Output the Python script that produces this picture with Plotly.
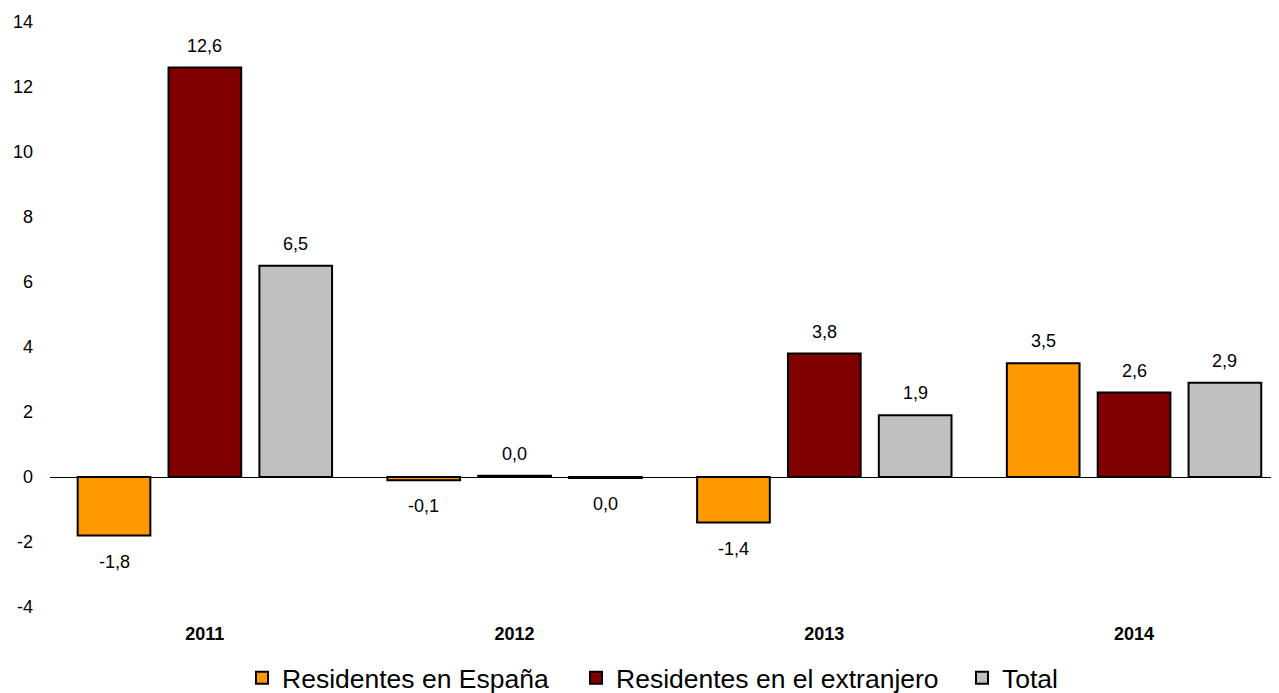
import plotly.graph_objects as go

years = ["2011", "2012", "2013", "2014"]
series_names = ["Residentes en España", "Residentes en el extranjero", "Total"]
espana = [-1.8, -0.1, -1.4, 3.5]
extranjero = [12.6, 0.04, 3.8, 2.6]
total = [6.5, -0.03, 1.9, 2.9]
y_ticks = [-4, -2, 0, 2, 4, 6, 8, 10, 12, 14]
y_tick_labels = ["-4", "-2", "0", "2", "4", "6", "8", "10", "12", "14"]

colors = ["#FF9900", "#800000", "#C0C0C0"]
FONT = "Liberation Sans, Arial, sans-serif"
BARGAP = 0.12
BARGROUPGAP = 0.2

# the page body adds an 8px offset; size the figure to fill the rest of the window
PAGE_OFF = 8
W, H = 1279 - PAGE_OFF, 693 - PAGE_OFF
legend_square_left = [253, 587, 973]  # window px of legend swatches
legend_center_y = 678


def fmt(v):
    s = f"{abs(v):.1f}".replace(".", ",")
    if round(v, 1) < 0:
        s = "-" + s
    return s


fig = go.Figure()
all_series = [espana, extranjero, total]
legend_ids = ["legend", "legend2", "legend3"]
for name, vals, col, lid in zip(series_names, all_series, colors, legend_ids):
    fig.add_trace(go.Bar(
        x=years, y=vals, name=name, legend=lid,
        marker=dict(color=col, line=dict(color="black", width=2)),
    ))

# value labels
slot = (1 - BARGAP) / len(all_series)
annotations = []
for si, vals in enumerate(all_series):
    off = (si - (len(all_series) - 1) / 2) * slot
    for ci, v in enumerate(vals):
        annotations.append(dict(
            x=ci + off, y=v, xref="x", yref="y",
            text=fmt(v), showarrow=False,
            yshift=22 if v >= 0 else -26,
            font=dict(family=FONT, size=18, color="black"),
        ))

legend_common = dict(
    orientation="h", xanchor="left", xref="container",
    y=(693 - legend_center_y) / H, yanchor="middle", yref="container",
    font=dict(family=FONT, size=26.5, color="black"),
    bgcolor="rgba(0,0,0,0)",
)
legends = {}
for lid, sq in zip(legend_ids, legend_square_left):
    legends[lid] = dict(legend_common, x=(sq - 11 - PAGE_OFF) / W)

fig.update_layout(
    width=W, height=H,
    barmode="group", bargap=BARGAP, bargroupgap=BARGROUPGAP,
    plot_bgcolor="white", paper_bgcolor="white",
    margin=dict(l=50 - PAGE_OFF, r=0, t=22 - PAGE_OFF, b=693 - 607),
    font=dict(family=FONT, size=18, color="black"),
    annotations=annotations,
    showlegend=True,
    **legends,
    xaxis=dict(
        type="category", range=[-0.5, 3.468], showgrid=False, showline=False,
        ticks="", tickfont=dict(family=FONT, size=18, color="black", weight="bold"),
        ticklabelstandoff=14,
    ),
    yaxis=dict(
        range=[-4, 14], tickvals=y_ticks, ticktext=y_tick_labels,
        showgrid=False, showline=False, ticks="",
        zeroline=True, zerolinecolor="black", zerolinewidth=1,
        tickfont=dict(family=FONT, size=18, color="black"),
        ticklabelstandoff=16,
    ),
)

fig.write_html("out.html")
